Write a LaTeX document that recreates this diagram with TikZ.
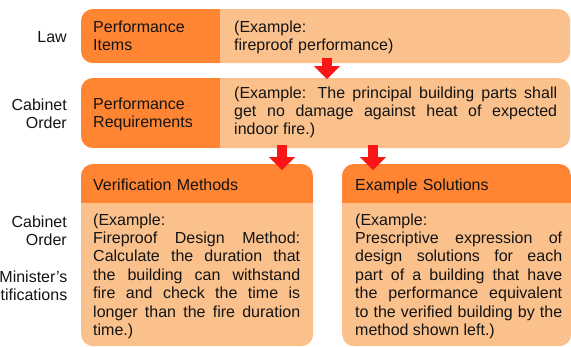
\documentclass[tikz,border=0pt]{standalone}
\usepackage{fontspec}
\setmainfont{Liberation Sans}
\usetikzlibrary{arrows.meta}
\definecolor{darkor}{RGB}{255,133,51}
\definecolor{lightor}{RGB}{251,193,140}
\definecolor{arrowred}{RGB}{250,22,22}
\definecolor{textc}{RGB}{20,20,20}
\newcommand{\diagfs}{\fontsize{16pt}{18.4pt}\selectfont\tolerance=10000\hyphenpenalty=10000\relax}
\tikzset{
  lightbox/.style={rectangle, rounded corners=12pt, fill=lightor, inner sep=0pt, anchor=north west},
  darkbox/.style={rectangle, fill=darkor, inner sep=0pt, anchor=north west},
  txt/.style={inner sep=0pt, font=\diagfs, text=textc},
  headtxt/.style={txt, anchor=base west, align=left, text width=140pt},
  bodytxt/.style={txt, anchor=base west, align=justify},
  lbl/.style={txt, anchor=base east, align=right, text width=100pt},
  blockarrow/.style={draw=arrowred, line width=10pt, -{Triangle[width=26pt, length=13pt, line width=0pt]}}
}
\begin{document}
\begin{tikzpicture}[x=1pt, y=-1pt]
\useasboundingbox (0,0) rectangle (571,346);

% left labels
\node[lbl] (law) at (67,42) {Law};
\node[lbl] (cab1) at (67,110) {Cabinet\\Order};
\node[lbl] (cab2) at (67,227) {Cabinet\\Order};
\node[lbl] (mins) at (67.5,282) {Minister{\char"27}s\\Notifications};

% box 1
\node[lightbox, minimum width=489pt, minimum height=54pt] (b1) at (81,9) {};
\begin{scope}
  \clip[rounded corners=12pt] (81,9) rectangle (570,63);
  \node[darkbox, minimum width=139pt, minimum height=54pt] (b1d) at (81,9) {};
\end{scope}
\node[headtxt] (t1) at (93,32) {Performance\\Items};
\node[bodytxt, text width=323pt, align=left] (e1) at (234,32) {(Example:\\fireproof performance)};

% box 2
\node[lightbox, minimum width=489pt, minimum height=70pt] (b2) at (81,78) {};
\begin{scope}
  \clip[rounded corners=12pt] (81,78) rectangle (570,148);
  \node[darkbox, minimum width=139pt, minimum height=70pt] (b2d) at (81,78) {};
\end{scope}
\node[headtxt] (t2) at (93,109) {Performance\\Requirements};
\node[bodytxt, text width=323pt] (e2) at (234,98) {(Example: The principal building parts shall\linebreak get no damage against heat of expected\linebreak indoor fire.)};

% box 3
\node[lightbox, minimum width=232pt, minimum height=182pt] (b3) at (81,164) {};
\begin{scope}
  \clip[rounded corners=12pt] (81,164) rectangle (313,346);
  \node[darkbox, minimum width=232pt, minimum height=39pt] (b3d) at (81,164) {};
\end{scope}
\node[headtxt, text width=200pt] (t3) at (93,190) {Verification Methods};
\node[bodytxt, text width=207pt] (e3) at (93,225) {(Example:\\Fireproof Design Method:\linebreak Calculate the duration that\linebreak the building can withstand\linebreak fire and check the time is\linebreak longer than the fire duration\linebreak time.)};

% box 4
\node[lightbox, minimum width=229pt, minimum height=182pt] (b4) at (342,164) {};
\begin{scope}
  \clip[rounded corners=12pt] (342,164) rectangle (571,346);
  \node[darkbox, minimum width=229pt, minimum height=39pt] (b4d) at (342,164) {};
\end{scope}
\node[headtxt, text width=200pt] (t4) at (355,190) {Example Solutions};
\node[bodytxt, text width=207pt] (e4) at (355,225) {(Example:\\Prescriptive expression of\linebreak design solutions for each\linebreak part of a building that have\linebreak the performance equivalent\linebreak to the verified building by the\linebreak method shown left.)};

% arrows
\coordinate (a1s) at (327,58);
\coordinate (a1e) at (327,79);
\coordinate (a2s) at (282,145);
\coordinate (a2e) at (282,170);
\coordinate (a3s) at (373,145);
\coordinate (a3e) at (373,170);
\draw[blockarrow] (a1s) -- (a1e);
\draw[blockarrow] (a2s) -- (a2e);
\draw[blockarrow] (a3s) -- (a3e);
\end{tikzpicture}
\end{document}
